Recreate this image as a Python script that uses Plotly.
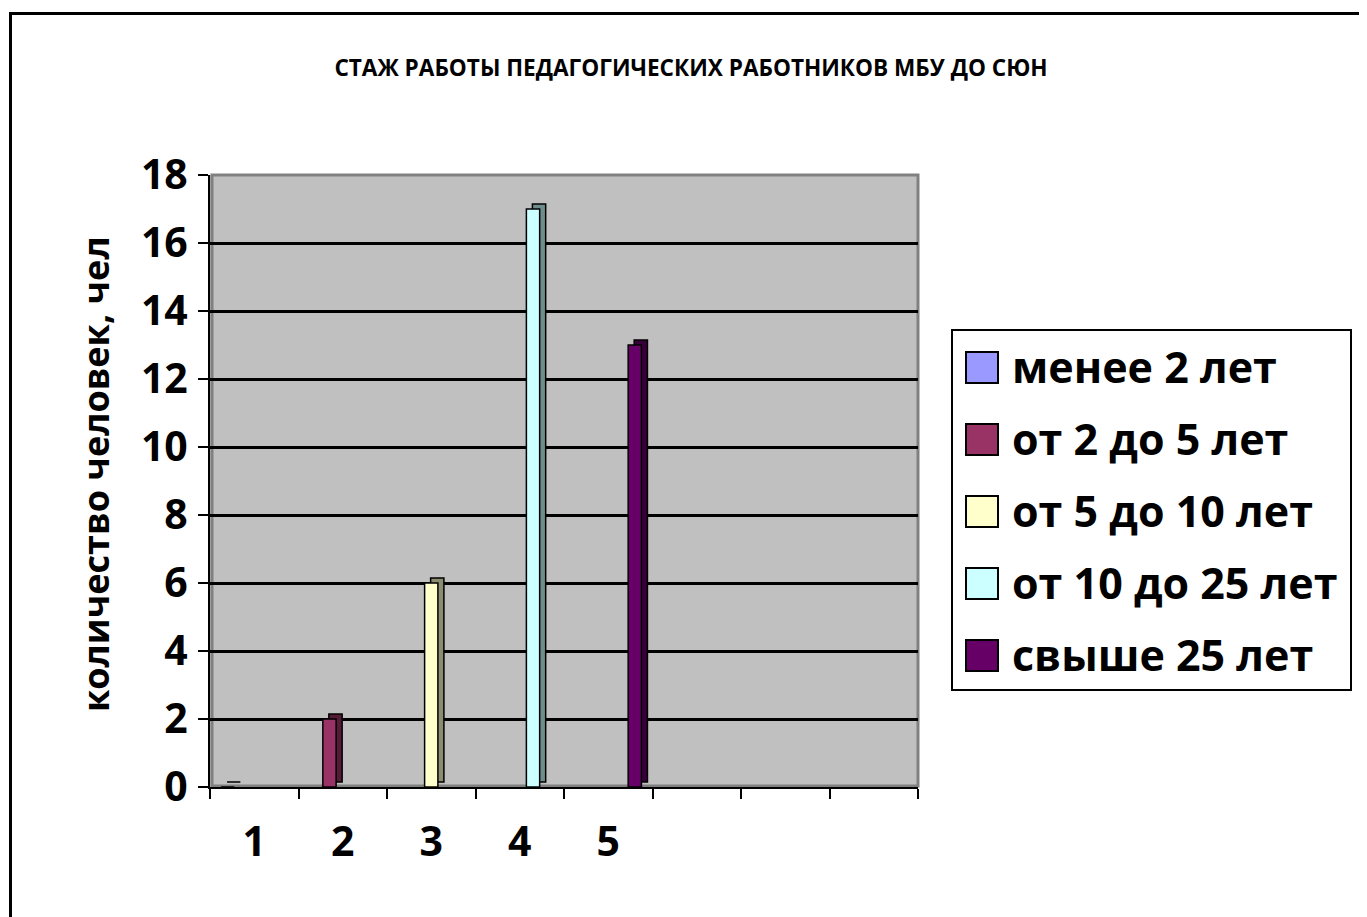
import plotly.graph_objects as go

# ---- data ----
categories = ["1", "2", "3", "4", "5", "", "", ""]
series_names = ["менее 2 лет", "от 2 до 5 лет", "от 5 до 10 лет", "от 10 до 25 лет", "свыше 25 лет"]
less_2 = [0, None, None, None, None]
from_2_to_5 = [None, 2, None, None, None]
from_5_to_10 = [None, None, 6, None, None]
from_10_to_25 = [None, None, None, 17, None]
over_25 = [None, None, None, None, 13]
series_values = [less_2, from_2_to_5, from_5_to_10, from_10_to_25, over_25]
y_ticks = [0, 2, 4, 6, 8, 10, 12, 14, 16, 18]

title_text = "СТАЖ РАБОТЫ ПЕДАГОГИЧЕСКИХ РАБОТНИКОВ МБУ ДО СЮН"
y_title = "количество человек, чел"

# ---- style ----
front_colors = ["#9999FF", "#993366", "#FFFFCC", "#CCFFFF", "#660066"]
side_colors = ["#55558C", "#551C38", "#8C8C70", "#6E8C8C", "#380038"]
FONT = "Open Sans"

PAGE_OFF = 8  # default page body margin
W, H = 1367 - PAGE_OFF, 917 - PAGE_OFF
# plot area in page pixel coordinates
L, R, T, B = 210, 918, 175, 787


def px(x):
    return (x - L) / (R - L)


def py(y):
    return (B - y) / (B - T)


positions = list(range(1, len(categories) + 1))
bar_w = 0.15
group_start = -0.375
depth_x = 0.068
depth_y = 0.147

fig = go.Figure()
for i, (name, vals) in enumerate(zip(series_names, series_values)):
    xs = positions[:len(vals)]
    off = group_start + bar_w * i
    # 3D side/top face
    fig.add_trace(go.Bar(
        x=xs, y=vals, base=depth_y, width=bar_w, offset=off + depth_x,
        marker=dict(color=side_colors[i], line=dict(color="black", width=1.5)),
        showlegend=False, hoverinfo="skip"))
    # front face
    fig.add_trace(go.Bar(
        x=xs, y=vals, width=bar_w, offset=off, name=name,
        marker=dict(color=front_colors[i], line=dict(color="black", width=1.5)),
        showlegend=False))

shapes = []
annotations = []

# outer chart border (right and bottom edges fall outside the picture)
shapes.append(dict(type="rect", xref="paper", yref="paper",
                   x0=px(10.5), x1=px(1500), y0=py(13.5), y1=py(1100),
                   line=dict(color="black", width=3), fillcolor="rgba(0,0,0,0)",
                   layer="above"))
# wall edge
shapes.append(dict(type="rect", xref="paper", yref="paper",
                   x0=px(212), x1=px(918), y0=py(786), y1=py(175),
                   line=dict(color="#808080", width=3), fillcolor="rgba(0,0,0,0)",
                   layer="below"))

# legend (manual, large symbols)
leg_left, leg_right, leg_top, leg_bottom = 952, 1351, 330, 690
shapes.append(dict(type="rect", xref="paper", yref="paper",
                   x0=px(leg_left), x1=px(leg_right), y0=py(leg_top), y1=py(leg_bottom),
                   line=dict(color="black", width=2), fillcolor="white"))
for i, name in enumerate(series_names):
    top = 352 + 72 * i
    shapes.append(dict(type="rect", xref="paper", yref="paper",
                       x0=px(966), x1=px(998), y0=py(top), y1=py(top + 31),
                       line=dict(color="black", width=2), fillcolor=front_colors[i]))
    annotations.append(dict(text=name, xref="paper", yref="paper",
                            x=px(1010), y=py(top + 14), xanchor="left", yanchor="middle",
                            showarrow=False,
                            font=dict(family=FONT, size=43, color="black", weight="bold")))

# y axis title
annotations.append(dict(text=y_title, xref="paper", yref="paper",
                        x=px(95), y=py(474), textangle=-90,
                        xanchor="center", yanchor="middle", showarrow=False,
                        font=dict(family=FONT, size=36, color="black", weight="bold")))

fig.update_layout(
    width=W, height=H,
    margin=dict(l=L - PAGE_OFF, r=W - (R - PAGE_OFF), t=T - PAGE_OFF,
                b=H - (B - PAGE_OFF), pad=0),
    paper_bgcolor="white",
    plot_bgcolor="#C0C0C0",
    barmode="overlay",
    showlegend=False,
    title=dict(text=title_text, x=(691 - PAGE_OFF) / W, xref="container", xanchor="center",
               y=1 - (68 - PAGE_OFF) / H, yref="container", yanchor="middle",
               font=dict(family=FONT, size=22.6, color="black", weight="bold")),
    xaxis=dict(
        range=[0.5, len(categories) + 0.5],
        tickmode="array", tickvals=positions, ticktext=categories,
        ticks="", showgrid=False, zeroline=False,
        showline=True, linecolor="black", linewidth=2,
        tickfont=dict(family=FONT, size=41, color="black", weight="bold"),
        ticklabelstandoff=18,
        minor=dict(tickmode="linear", tick0=0.5, dtick=1, ticks="outside",
                   ticklen=10, tickwidth=2, tickcolor="black", showgrid=False),
        fixedrange=True,
    ),
    yaxis=dict(
        range=[0, 18], tickmode="array", tickvals=y_ticks,
        ticks="outside", ticklen=10, tickwidth=2, tickcolor="black",
        showgrid=True, gridcolor="black", gridwidth=2.5,
        zeroline=False, showline=True, linecolor="black", linewidth=2,
        tickfont=dict(family=FONT, size=41, color="black", weight="bold"),
        ticklabelstandoff=2,
        fixedrange=True,
    ),
    shapes=shapes,
    annotations=annotations,
)

fig.write_html("out.html")
